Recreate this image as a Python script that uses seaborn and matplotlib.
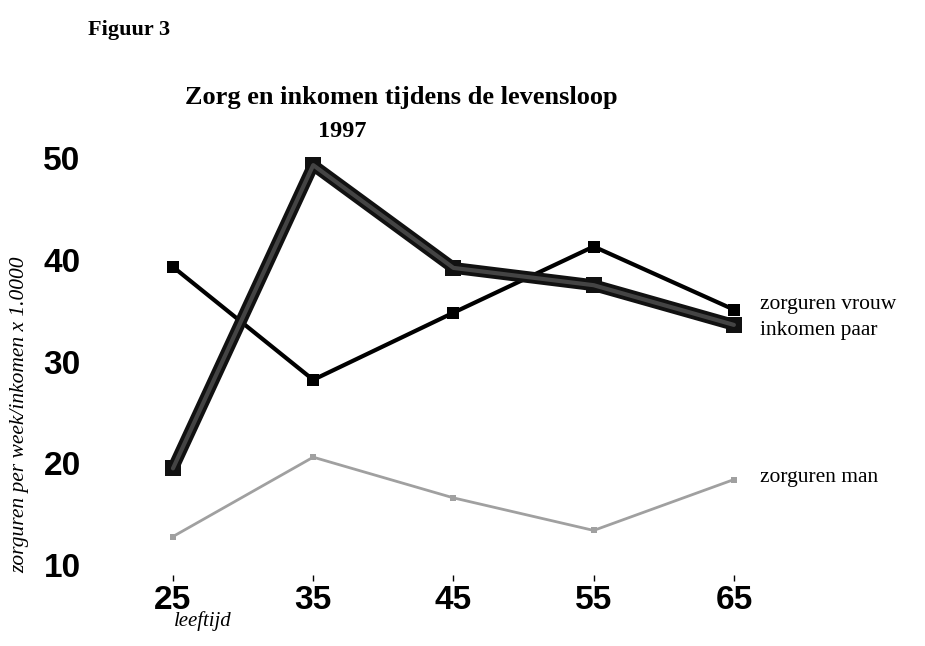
import pandas as pd
import matplotlib.pyplot as plt
import seaborn as sns

ages = [25, 35, 45, 55, 65]
zorg_vrouw = [39.3, 28.2, 34.8, 41.3, 35.1]
inkomen_paar = [19.5, 49.3, 39.2, 37.5, 33.6]
zorg_man = [12.8, 20.6, 16.6, 13.4, 18.4]
yticks = [10, 20, 30, 40, 50]

df = pd.DataFrame({'leeftijd': ages, 'zorguren vrouw': zorg_vrouw,
                   'inkomen paar': inkomen_paar, 'zorguren man': zorg_man})

sns.set_style('white')
plt.rcParams['text.color'] = 'black'
plt.rcParams['xtick.color'] = 'black'
plt.rcParams['ytick.color'] = 'black'
serif = 'Liberation Serif'
sans = 'Liberation Sans'

fig = plt.figure(figsize=(9.25, 6.46), dpi=100)
ax = fig.add_axes([0.1112, 0.1096, 0.758, 0.6773])

sns.lineplot(data=df, x='leeftijd', y='zorguren man', ax=ax, color='#a0a0a0',
             linewidth=2, marker='s', markersize=5, markeredgewidth=0)
sns.lineplot(data=df, x='leeftijd', y='zorguren vrouw', ax=ax, color='black',
             linewidth=3, marker='s', markersize=9, markeredgewidth=0)
# thick line: black body with a slightly lighter core
sns.lineplot(data=df, x='leeftijd', y='inkomen paar', ax=ax, color='#111111',
             linewidth=8.5, marker='s', markersize=12, markeredgewidth=0)
sns.lineplot(data=df, x='leeftijd', y='inkomen paar', ax=ax, color='#444444',
             linewidth=3)

ax.set_xlim(20, 70)
ax.set_ylim(9, 52)
ax.set_xticks(ages)
ax.set_yticks(yticks)
ax.set_xlabel('')
ax.set_ylabel('')
for s in ax.spines.values():
    s.set_visible(False)
ax.tick_params(axis='x', length=4, width=1, direction='out', pad=3, bottom=True)
ax.tick_params(axis='y', length=0, pad=16)
for lab in ax.get_xticklabels() + ax.get_yticklabels():
    lab.set_fontfamily(sans)
    lab.set_fontweight('bold')
    lab.set_fontsize(24)
    lab.set_color('black')

ax.text(66.85, 35.65, 'zorguren vrouw', family=serif, fontsize=15.5, ha='left', va='center', clip_on=False)
ax.text(66.85, 33.0, 'inkomen paar', family=serif, fontsize=15.5, ha='left', va='center', clip_on=False)
ax.text(66.85, 18.65, 'zorguren man', family=serif, fontsize=15.5, ha='left', va='center', clip_on=False)

fig.text(0.0951, 0.9536, 'Figuur 3', family=serif, fontweight='bold', fontsize=16, ha='left', va='center')
fig.text(0.4335, 0.8483, 'Zorg en inkomen tijdens de levensloop', family=serif, fontweight='bold',
         fontsize=19, ha='center', va='center')
fig.text(0.3697, 0.7972, '1997', family=serif, fontweight='bold', fontsize=17.5, ha='center', va='center')
fig.text(0.0216, 0.3576, 'zorguren per week/inkomen x 1.0000', family=serif, style='italic',
         fontsize=15.5, rotation=90, ha='center', va='center')
fig.text(0.2195, 0.0387, 'leeftijd', family=serif, style='italic', fontsize=15, ha='center', va='center')

fig.savefig('out.png', dpi=100)
